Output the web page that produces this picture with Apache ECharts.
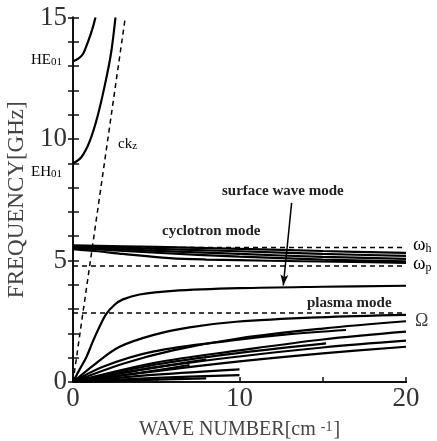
<!DOCTYPE html>
<html><head><meta charset="utf-8">
<script src="https://cdn.jsdelivr.net/npm/echarts@6/dist/echarts.min.js"></script>
<style>html,body{margin:0;padding:0;background:#fff}#c{width:437px;height:441px}</style>
</head><body><div id="c"></div>
<script>
// tick labels
const xTickLabels = ['0', '10', '20'];
const yTickLabels = ['0', '5', '10', '15'];
// waveguide modes
const heMode = [[0,13.2],[0.3,13.3],[0.6,13.5],[0.9,14.0],[1.15,14.5],[1.35,15]];
const ehMode = [[0,9.0],[0.5,9.25],[1.0,9.9],[1.5,11.0],[2.0,12.5],[2.3,13.6],[2.55,15]];
// light line ck_z
const lightLine = [[0,0],[3.14,15]];
// reference frequencies
const omegaH = 5.54, omegaP = 4.77, omegaC = 2.84;
// cyclotron mode curves
const cyc1 = [[0,5.62],[5,5.56],[10,5.48],[15,5.39],[20,5.31]];
const cyc2 = [[0,5.58],[5,5.48],[10,5.38],[15,5.27],[20,5.19]];
const cyc3 = [[0,5.55],[5,5.40],[10,5.27],[15,5.15],[20,5.07]];
const cyc4 = [[0,5.52],[5,5.32],[10,5.16],[15,5.04],[20,4.96]];
const cyc5 = [[0,5.47],[1.5,5.38],[3,5.27],[5.8,5.10],[8,5.04],[11.8,4.99],[17.8,4.93],[20,4.90]];
// surface wave mode
const surface = [[0,0],[0.4,0.52],[0.8,1.02],[1.2,1.68],[1.6,2.28],[2.0,2.8],[2.5,3.18],[3,3.4],[4,3.6],[6,3.75],[10,3.86],[15,3.92],[20,3.96]];
// plasma mode curves
const plA = [[0,0],[1.4,0.78],[2.8,1.45],[4.8,1.93],[7,2.25],[9.8,2.48],[14.8,2.66],[20,2.76]];
const plB = [[0,0],[1.8,0.63],[4.8,1.25],[9.8,1.73],[13,1.97],[16.4,2.14]];
const plC = [[0,0],[3,0.75],[6,1.3],[10,1.8],[15,2.2],[20,2.5]];
const plD = [[0,0],[5,0.72],[10,1.2],[15.2,1.59]];
const plE = [[0,0],[5,0.8],[10,1.3],[15,1.75],[20,2.07]];
const plF = [[0,0],[5,0.6],[10,1.05],[15,1.42],[20,1.7]];
const plG = [[0,0],[5,0.45],[10,0.85],[15,1.18],[20,1.45]];
const plH = [[0,0],[5,0.3],[10,0.52]];
const plI = [[0,0],[4,0.5],[8,0.92]];
const plJ = [[0,0],[4,0.38],[7,0.7]];
const plK = [[0,0],[5,0.17],[10,0.28]];
const plL = [[0,0],[4,0.08],[8,0.15]];

const solid = [heMode, ehMode, cyc1, cyc2, cyc3, cyc4, cyc5, surface,
  plA, plB, plC, plD, plE, plF, plG, plH, plI, plJ, plK, plL];

const serif = '"Liberation Serif","DejaVu Serif",serif';
const series = solid.map(d => ({
  type: 'line', data: d, showSymbol: false, smooth: 0.35, silent: true,
  lineStyle: {color: '#000', width: 2.2}, z: 3
}));
const dash = {color: '#000', width: 1.5, type: [5, 4]};
series.push({type:'line', data: lightLine, showSymbol:false, silent:true, lineStyle: dash, z:4});
[omegaH, omegaP, omegaC].forEach(v => series.push({
  type:'line', data:[[0,v],[20,v]], showSymbol:false, silent:true, lineStyle: dash, z:4
}));
series.push({type:'line', data:[], markLine:{silent:true, symbol:['none','arrow'], symbolSize:[6,11],
  lineStyle:{color:'#000', width:1.5, type:'solid'}, label:{show:false},
  data:[[{coord:[13.13,7.37]},{coord:[12.63,3.97]}]]}});

const chart = echarts.init(document.getElementById('c'));
const axisLine = {show:true, lineStyle:{color:'#111', width:2}};
chart.setOption({
  animation: false,
  grid: {left:73, top:17.5, width:333, height:364.5, containLabel:false, outerBoundsMode:'none'},
  xAxis: [{
    type:'value', min:0, max:20, interval:5, position:'bottom',
    axisLine, splitLine:{show:false},
    axisTick:{inside:true, length:5, lineStyle:{color:'#111', width:1.5}},
    axisLabel:{margin:3, fontFamily:serif, fontSize:27, color:'#333',
      formatter: v => xTickLabels.includes(String(v)) ? String(v) : ''},
    name:'{a|WAVE NUMBER[cm }{s|-1}{a|]}', nameLocation:'middle', nameGap:38,
    nameTextStyle:{rich:{a:{fontFamily:serif, fontSize:20, color:'#444'}, s:{fontFamily:serif, fontSize:14, color:'#444', verticalAlign:'top', padding:[0,1,0,0]}}}
  },{
    type:'value', min:0, max:20, position:'top', axisLine, axisTick:{show:false}, axisLabel:{show:false}, splitLine:{show:false}
  }],
  yAxis: [{
    type:'value', min:0, max:15, interval:1, position:'left',
    axisLine, splitLine:{show:false},
    axisTick:{inside:true, length:6, lineStyle:{color:'#111', width:1.5}},
    axisLabel:{margin:6, fontFamily:serif, fontSize:27, color:'#333',
      formatter: v => yTickLabels.includes(String(v)) ? String(v) : ''},
    name:'FREQUENCY[GHz]', nameLocation:'middle', nameGap:45,
    nameTextStyle:{fontFamily:serif, fontSize:23, color:'#444'}
  },{
    type:'value', min:0, max:15, interval:1, position:'right',
    axisLine, splitLine:{show:false},
    axisTick:{inside:true, length:5, lineStyle:{color:'#111', width:1.5}},
    axisLabel:{show:false}
  }],
  series,
  graphic: [
    {type:'text', left:31, top:53, style:{text:'{a|HE}{b|01}', rich:{a:{fontFamily:serif, fontSize:15, color:'#333'}, b:{fontFamily:serif, fontSize:11, color:'#333', verticalAlign:'bottom'}}}},
    {type:'text', left:31, top:165, style:{text:'{a|EH}{b|01}', rich:{a:{fontFamily:serif, fontSize:15, color:'#333'}, b:{fontFamily:serif, fontSize:11, color:'#333', verticalAlign:'bottom'}}}},
    {type:'text', left:118, top:137, style:{text:'{a|ck}{b|z}', rich:{a:{fontFamily:serif, fontSize:15, color:'#333'}, b:{fontFamily:serif, fontSize:11, color:'#333', verticalAlign:'bottom'}}}},
    {type:'text', left:222, top:184, style:{text:'surface wave mode', fontFamily:serif, fontSize:15, fontWeight:'bold', fill:'#222'}},
    {type:'text', left:162, top:224, style:{text:'cyclotron mode', fontFamily:serif, fontSize:15, fontWeight:'bold', fill:'#222'}},
    {type:'text', left:307, top:296, style:{text:'plasma mode', fontFamily:serif, fontSize:15, fontWeight:'bold', fill:'#222'}},
    {type:'text', left:413, top:236, style:{text:'{a|ω}{b|h}', rich:{a:{fontFamily:serif, fontSize:19, color:'#444'}, b:{fontFamily:serif, fontSize:12, color:'#444', verticalAlign:'bottom'}}}},
    {type:'text', left:413, top:255, style:{text:'{a|ω}{b|p}', rich:{a:{fontFamily:serif, fontSize:19, color:'#444'}, b:{fontFamily:serif, fontSize:12, color:'#444', verticalAlign:'bottom'}}}},
    {type:'text', left:415, top:312, style:{text:'Ω', fontFamily:serif, fontSize:18, fill:'#444'}}
  ]
});
</script></body></html>
